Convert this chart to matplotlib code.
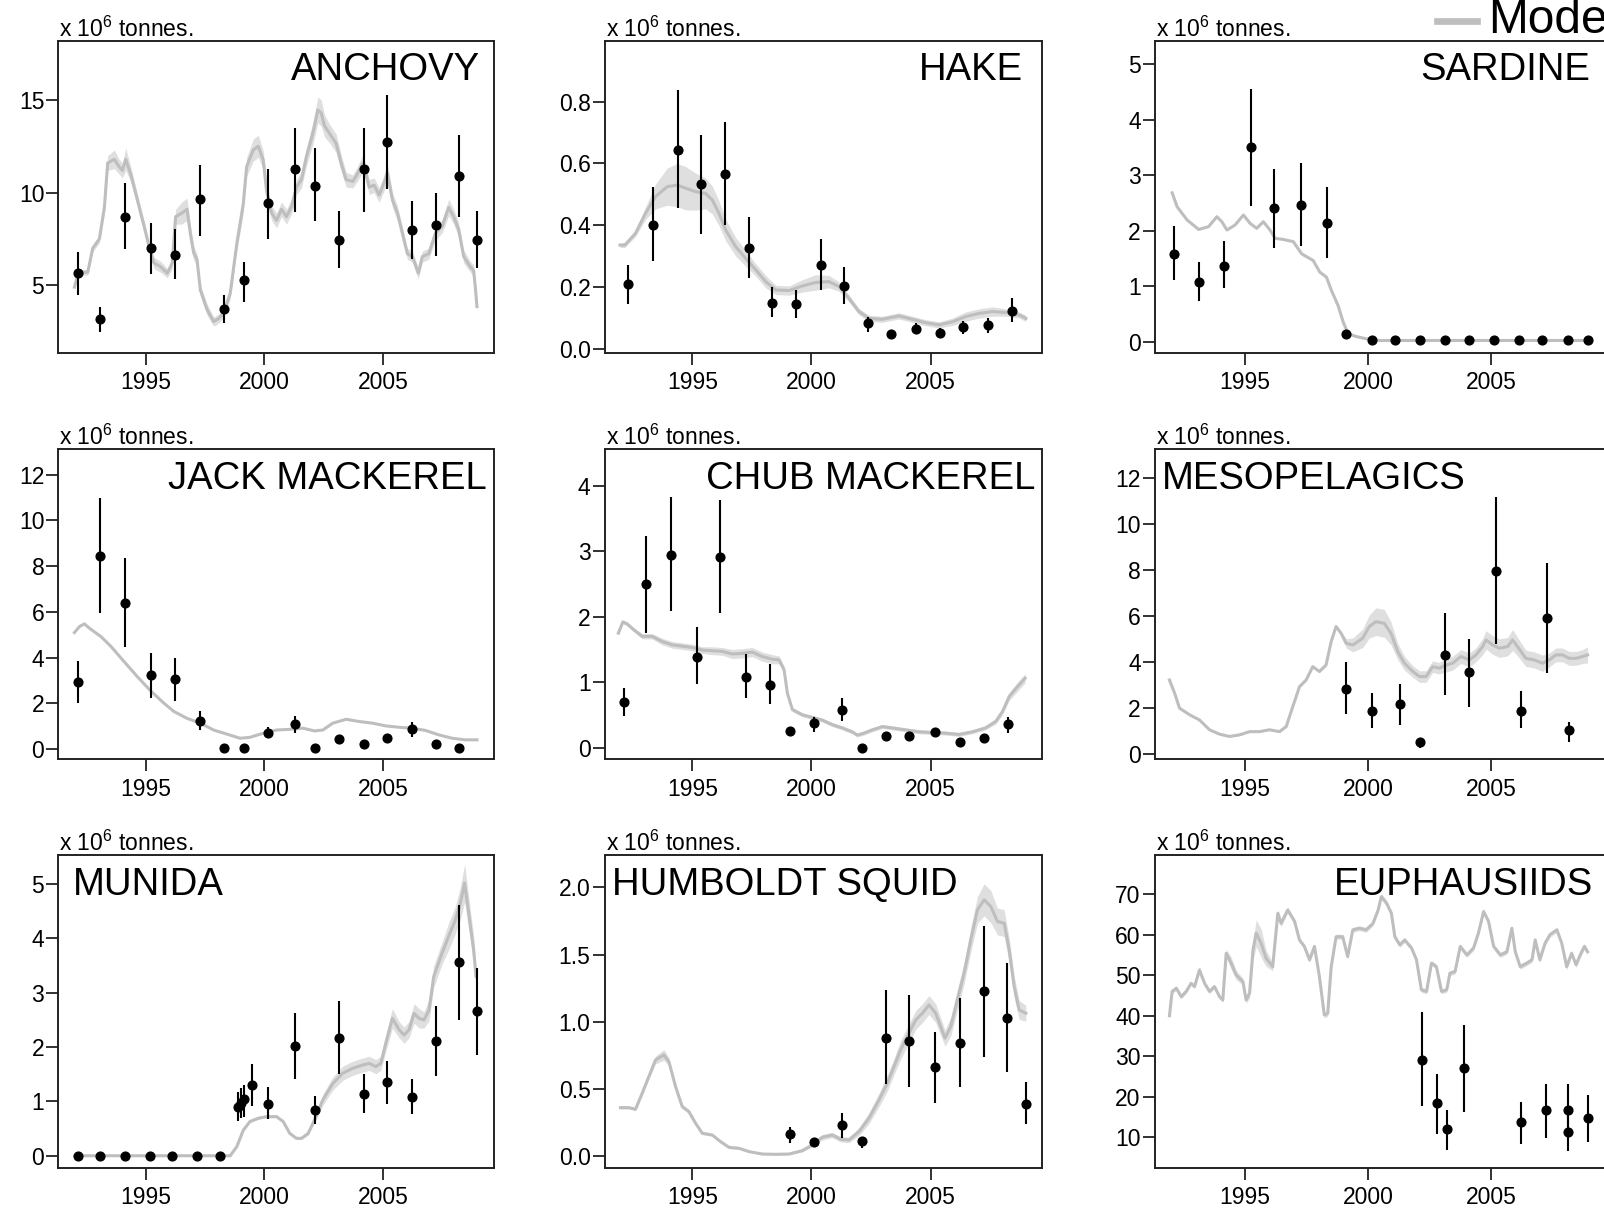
import numpy as np
import matplotlib
matplotlib.use("Agg")
import matplotlib.pyplot as plt
from matplotlib.lines import Line2D

plt.rcParams['font.family'] = ['Liberation Sans', 'DejaVu Sans']
plt.rcParams['mathtext.fontset'] = 'custom'
plt.rcParams['mathtext.rm'] = 'Liberation Sans'
plt.rcParams['mathtext.it'] = 'Liberation Sans:italic'

LINE_GREY = '#bebebe'
BAND_GREY = '#dfdfdf'
INK = '#222222'

# ---------------- ANCHOVY ----------------
anchovy_t = [1992.00, 1992.17, 1992.56, 1992.77, 1993.05, 1993.26, 1993.40, 1993.68, 1993.88, 1994.02,
             1994.16, 1994.37, 1994.65, 1994.93, 1995.14, 1995.35, 1995.63, 1995.91, 1996.12, 1996.26,
             1996.53, 1996.74, 1996.88, 1997.02, 1997.16, 1997.30, 1997.58, 1997.86, 1998.07, 1998.28,
             1998.56, 1998.84, 1999.11, 1999.25, 1999.53, 1999.74, 1999.95, 2000.09, 2000.30, 2000.51,
             2000.72, 2000.93, 2001.14, 2001.35, 2001.56, 2001.76, 2002.04, 2002.25, 2002.39, 2002.53,
             2002.74, 2003.02, 2003.23, 2003.44, 2003.72, 2003.93, 2004.14, 2004.27, 2004.41, 2004.62,
             2004.83, 2004.97, 2005.18, 2005.39, 2005.60, 2005.81, 2006.02, 2006.23, 2006.48, 2006.65,
             2006.92, 2007.20, 2007.48, 2007.76, 2007.97, 2008.18, 2008.39, 2008.67, 2008.81, 2008.88,
             2008.95]
anchovy_m = [4.90, 5.70, 5.70, 7.00, 7.50, 9.20, 11.60, 11.80, 11.40, 11.20,
             11.80, 11.00, 9.60, 8.20, 7.10, 6.20, 6.00, 5.65, 6.20, 8.70,
             8.90, 9.10, 7.80, 6.75, 6.40, 4.75, 3.70, 3.04, 3.20, 3.50,
             4.57, 7.27, 9.40, 11.40, 12.30, 12.50, 11.76, 10.10, 8.90, 8.50,
             9.10, 8.70, 9.24, 10.30, 10.70, 11.90, 13.20, 14.46, 14.30, 13.60,
             13.20, 12.66, 11.60, 10.70, 10.60, 11.04, 11.58, 11.04, 10.30, 10.40,
             9.87, 10.30, 11.04, 9.60, 8.90, 7.80, 6.70, 6.55, 5.65, 6.55,
             6.70, 7.80, 8.17, 9.20, 8.70, 8.00, 6.55, 6.00, 5.80, 4.90,
             3.85]
anchovy_bw = [0.10, 0.15, 0.15, 0.20, 0.20, 0.30, 0.40, 0.50, 0.40, 0.40,
              0.60, 0.40, 0.35, 0.30, 0.30, 0.30, 0.30, 0.25, 0.30, 0.40,
              0.60, 0.60, 0.50, 0.40, 0.30, 0.30, 0.30, 0.25, 0.25, 0.25,
              0.30, 0.40, 0.50, 0.50, 0.60, 0.60, 0.50, 0.50, 0.40, 0.40,
              0.40, 0.40, 0.40, 0.40, 0.45, 0.50, 0.60, 0.70, 0.70, 0.60,
              0.50, 0.50, 0.45, 0.40, 0.35, 0.40, 0.45, 0.40, 0.40, 0.40,
              0.40, 0.40, 0.50, 0.40, 0.40, 0.35, 0.30, 0.30, 0.30, 0.30,
              0.30, 0.35, 0.35, 0.45, 0.40, 0.40, 0.35, 0.30, 0.30, 0.30,
              0.30]
anchovy_yr = [1992.14, 1993.09, 1994.12, 1995.22, 1996.23, 1997.27, 1998.31, 1999.13, 2000.13,
              2001.29, 2002.11, 2003.13, 2004.18, 2005.18, 2006.21, 2007.24, 2008.19, 2008.95]
anchovy_obs = [5.65, 3.17, 8.70, 7.00, 6.62, 9.64, 3.72, 5.27, 9.46,
               11.26, 10.36, 7.45, 11.26, 12.72, 7.99, 8.26, 10.90, 7.45]
anchovy_lo = [4.48, 2.50, 6.94, 5.60, 5.32, 7.68, 2.95, 4.12, 7.50,
              8.96, 8.48, 5.95, 8.96, 10.22, 6.40, 6.58, 8.67, 5.95]
anchovy_hi = [6.82, 3.85, 10.50, 8.38, 8.02, 11.49, 4.48, 6.28, 11.28,
              13.50, 12.39, 9.03, 13.50, 15.29, 9.57, 9.96, 13.13, 9.03]

# ---------------- HAKE ----------------
hake_t = [1991.97, 1992.17, 1992.62, 1993.04, 1993.46, 1993.95, 1994.37, 1994.72, 1995.14, 1995.56,
          1995.84, 1996.12, 1996.40, 1996.82, 1997.24, 1997.66, 1998.08, 1998.50, 1999.06, 1999.62,
          2000.17, 2000.73, 2001.15, 2001.57, 2001.99, 2002.41, 2002.97, 2003.67, 2004.23, 2004.79,
          2005.35, 2005.91, 2006.47, 2007.03, 2007.59, 2008.15, 2008.71, 2008.99]
hake_m = [0.336, 0.336, 0.374, 0.439, 0.493, 0.525, 0.530, 0.520, 0.509, 0.503,
          0.482, 0.439, 0.385, 0.331, 0.293, 0.256, 0.218, 0.191, 0.189, 0.204,
          0.215, 0.218, 0.202, 0.164, 0.121, 0.099, 0.096, 0.107, 0.096, 0.085,
          0.078, 0.088, 0.105, 0.115, 0.121, 0.118, 0.110, 0.099]
hake_bw = [0.008, 0.008, 0.010, 0.020, 0.040, 0.060, 0.070, 0.070, 0.060, 0.050,
           0.045, 0.040, 0.035, 0.030, 0.025, 0.020, 0.020, 0.015, 0.015, 0.020,
           0.025, 0.020, 0.015, 0.012, 0.010, 0.010, 0.010, 0.010, 0.010, 0.010,
           0.010, 0.012, 0.015, 0.015, 0.015, 0.012, 0.010, 0.010]
hake_yr = [1992.31, 1993.35, 1994.40, 1995.35, 1996.37, 1997.38, 1998.36, 1999.36, 2000.39,
           2001.35, 2002.38, 2003.34, 2004.37, 2005.39, 2006.36, 2007.40, 2008.40]
hake_obs = [0.211, 0.401, 0.642, 0.533, 0.565, 0.326, 0.150, 0.146, 0.272,
            0.205, 0.083, 0.047, 0.064, 0.053, 0.070, 0.077, 0.123]
hake_lo = [0.144, 0.285, 0.455, 0.371, 0.400, 0.231, 0.105, 0.099, 0.191,
           0.144, 0.056, 0.038, 0.047, 0.040, 0.047, 0.051, 0.088]
hake_hi = [0.272, 0.523, 0.836, 0.692, 0.735, 0.426, 0.202, 0.191, 0.355,
           0.266, 0.105, 0.056, 0.083, 0.067, 0.092, 0.099, 0.166]

# ---------------- SARDINE ----------------
sardine_t = [1992.03, 1992.23, 1992.64, 1993.11, 1993.51, 1993.85, 1994.05, 1994.26, 1994.59, 1994.93,
             1995.20, 1995.47, 1995.74, 1996.01, 1996.22, 1996.55, 1996.96, 1997.30, 1997.77, 1998.04,
             1998.31, 1998.51, 1998.78, 1998.99, 1999.19, 1999.53, 1999.93, 2000.47, 2004.00, 2008.95]
sardine_m = [2.68, 2.43, 2.19, 2.02, 2.07, 2.25, 2.16, 2.01, 2.10, 2.28,
             2.13, 2.04, 2.16, 2.01, 1.86, 1.84, 1.80, 1.58, 1.46, 1.25,
             1.16, 0.92, 0.65, 0.35, 0.14, 0.09, 0.05, 0.02, 0.02, 0.02]
sardine_yr = [1992.11, 1993.11, 1994.15, 1995.23, 1996.19, 1997.27, 1998.31, 1999.12, 2000.15,
              2001.11, 2002.11, 2003.15, 2004.09, 2005.12, 2006.15, 2007.08, 2008.12, 2008.95]
sardine_obs = [1.58, 1.08, 1.36, 3.50, 2.40, 2.46, 2.13, 0.13, 0.02,
               0.02, 0.02, 0.02, 0.02, 0.02, 0.02, 0.02, 0.02, 0.02]
sardine_lo = [1.11, 0.74, 0.96, 2.45, 1.69, 1.72, 1.51, 0.13, 0.02,
              0.02, 0.02, 0.02, 0.02, 0.02, 0.02, 0.02, 0.02, 0.02]
sardine_hi = [2.08, 1.43, 1.81, 4.55, 3.11, 3.21, 2.78, 0.13, 0.02,
              0.02, 0.02, 0.02, 0.02, 0.02, 0.02, 0.02, 0.02, 0.02]

# ---------------- JACK MACKEREL ----------------
jack_t = [1992.00, 1992.21, 1992.42, 1992.63, 1993.12, 1993.54, 1994.09, 1994.65, 1995.21, 1995.77,
          1996.19, 1996.74, 1997.30, 1997.86, 1998.42, 1998.97, 1999.39, 1999.95, 2000.51, 2001.07,
          2001.62, 2002.11, 2002.46, 2002.88, 2003.44, 2004.00, 2004.55, 2005.11, 2005.67, 2006.23,
          2006.79, 2007.34, 2007.90, 2008.46, 2008.95]
jack_m = [5.10, 5.36, 5.48, 5.29, 4.92, 4.49, 3.83, 3.17, 2.55, 2.01,
          1.65, 1.35, 1.14, 0.84, 0.66, 0.48, 0.52, 0.70, 0.84, 0.87,
          0.92, 0.80, 0.84, 1.14, 1.31, 1.21, 1.14, 1.02, 0.96, 0.92,
          0.82, 0.63, 0.48, 0.41, 0.41]
jack_yr = [1992.14, 1993.09, 1994.12, 1995.22, 1996.23, 1997.27, 1998.31, 1999.13, 2000.13,
           2001.29, 2002.11, 2003.13, 2004.18, 2005.18, 2006.21, 2007.24, 2008.19]
jack_obs = [2.94, 8.46, 6.39, 3.23, 3.09, 1.24, 0.06, 0.06, 0.73,
            1.11, 0.06, 0.44, 0.22, 0.51, 0.87, 0.22, 0.06]
jack_lo = [2.01, 5.94, 4.46, 2.26, 2.11, 0.84, 0.06, 0.06, 0.55,
           0.70, 0.06, 0.36, 0.18, 0.40, 0.55, 0.18, 0.06]
jack_hi = [3.86, 10.99, 8.34, 4.22, 4.00, 1.65, 0.06, 0.06, 0.95,
           1.46, 0.06, 0.52, 0.26, 0.62, 1.21, 0.26, 0.06]

# ---------------- CHUB MACKEREL ----------------
chub_t = [1991.90, 1992.09, 1992.27, 1992.55, 1992.90, 1993.32, 1993.74, 1994.16, 1994.58, 1995.00,
          1995.42, 1995.84, 1996.26, 1996.68, 1997.10, 1997.52, 1997.94, 1998.36, 1998.64, 1998.85,
          1998.99, 1999.20, 1999.62, 2000.03, 2000.45, 2000.87, 2001.29, 2001.71, 2001.92, 2002.20,
          2002.55, 2002.97, 2003.39, 2003.95, 2004.51, 2005.07, 2005.63, 2006.18, 2006.74, 2007.30,
          2007.73, 2008.01, 2008.29, 2008.64, 2008.96]
chub_m = [1.75, 1.92, 1.89, 1.80, 1.70, 1.70, 1.62, 1.57, 1.55, 1.53,
          1.49, 1.48, 1.47, 1.43, 1.44, 1.46, 1.39, 1.35, 1.34, 1.19,
          0.83, 0.58, 0.50, 0.46, 0.42, 0.35, 0.30, 0.24, 0.19, 0.22,
          0.27, 0.32, 0.30, 0.27, 0.24, 0.23, 0.22, 0.20, 0.24, 0.30,
          0.40, 0.55, 0.78, 0.93, 1.06]
chub_bw = [0.03, 0.03, 0.03, 0.03, 0.04, 0.04, 0.05, 0.05, 0.05, 0.05,
           0.05, 0.06, 0.06, 0.07, 0.07, 0.07, 0.07, 0.07, 0.06, 0.05,
           0.04, 0.03, 0.03, 0.03, 0.03, 0.03, 0.03, 0.03, 0.03, 0.03,
           0.03, 0.03, 0.03, 0.03, 0.03, 0.03, 0.03, 0.03, 0.03, 0.03,
           0.04, 0.05, 0.06, 0.07, 0.07]
chub_yr = [1992.13, 1993.08, 1994.10, 1995.21, 1996.16, 1997.24, 1998.28, 1999.10, 2000.11,
           2001.29, 2002.10, 2003.14, 2004.09, 2005.20, 2006.23, 2007.24, 2008.25]
chub_obs = [0.70, 2.50, 2.94, 1.39, 2.91, 1.08, 0.95, 0.26, 0.37,
            0.57, 0.00, 0.18, 0.18, 0.23, 0.08, 0.15, 0.36]
chub_lo = [0.48, 1.75, 2.08, 0.97, 2.05, 0.76, 0.66, 0.22, 0.24,
           0.40, 0.00, 0.15, 0.14, 0.17, 0.06, 0.12, 0.22]
chub_hi = [0.91, 3.24, 3.83, 1.84, 3.78, 1.43, 1.27, 0.30, 0.47,
           0.75, 0.00, 0.22, 0.24, 0.30, 0.10, 0.19, 0.47]

# ---------------- MESOPELAGICS ----------------
meso_t = [1991.92, 1992.13, 1992.33, 1992.74, 1993.14, 1993.55, 1993.96, 1994.36, 1994.77, 1995.18,
          1995.58, 1995.99, 1996.40, 1996.67, 1996.94, 1997.21, 1997.48, 1997.75, 1998.02, 1998.29,
          1998.50, 1998.70, 1998.90, 1999.11, 1999.38, 1999.78, 2000.05, 2000.32, 2000.66, 2000.93,
          2001.21, 2001.48, 2001.82, 2002.09, 2002.36, 2002.63, 2002.90, 2003.17, 2003.44, 2003.78,
          2004.12, 2004.39, 2004.66, 2004.80, 2005.07, 2005.34, 2005.68, 2005.88, 2006.08, 2006.42,
          2006.76, 2007.10, 2007.37, 2007.64, 2007.91, 2008.18, 2008.46, 2008.73, 2008.93]
meso_m = [3.22, 2.65, 2.00, 1.71, 1.49, 1.06, 0.87, 0.77, 0.84, 0.98,
          0.98, 1.06, 0.98, 1.20, 2.07, 2.93, 3.22, 3.80, 3.59, 3.87,
          4.89, 5.54, 5.25, 4.81, 4.74, 5.03, 5.54, 5.75, 5.68, 5.25,
          4.45, 3.95, 3.59, 3.37, 3.37, 3.80, 3.73, 3.87, 3.95, 4.24,
          4.09, 4.31, 4.67, 4.96, 4.74, 4.60, 4.67, 4.96, 4.67, 4.16,
          4.09, 3.95, 4.09, 4.31, 4.31, 4.16, 4.16, 4.24, 4.31]
meso_bw = [0.03, 0.03, 0.03, 0.03, 0.03, 0.03, 0.03, 0.03, 0.03, 0.03,
           0.03, 0.03, 0.03, 0.03, 0.05, 0.05, 0.05, 0.05, 0.05, 0.05,
           0.05, 0.05, 0.08, 0.20, 0.30, 0.40, 0.50, 0.60, 0.60, 0.50,
           0.35, 0.30, 0.25, 0.25, 0.25, 0.25, 0.25, 0.30, 0.30, 0.30,
           0.30, 0.30, 0.35, 0.40, 0.40, 0.40, 0.40, 0.45, 0.40, 0.35,
           0.35, 0.35, 0.30, 0.30, 0.30, 0.30, 0.30, 0.30, 0.35]
meso_yr = [1999.11, 2000.14, 2001.30, 2002.10, 2003.14, 2004.09, 2005.20, 2006.22, 2007.26, 2008.18]
meso_obs = [2.85, 1.89, 2.18, 0.51, 4.31, 3.57, 7.97, 1.89, 5.91, 1.03]
meso_lo = [1.73, 1.13, 1.27, 0.29, 2.57, 2.07, 4.79, 1.13, 3.51, 0.55]
meso_hi = [3.98, 2.67, 3.04, 0.72, 6.12, 5.00, 11.15, 2.75, 8.28, 1.42]

# ---------------- MUNIDA ----------------
munida_t = [1992.03, 1998.56, 1998.84, 1999.11, 1999.39, 1999.74, 2000.09, 2000.51, 2000.79, 2001.07,
            2001.35, 2001.56, 2001.84, 2002.11, 2002.46, 2002.88, 2003.30, 2003.72, 2004.14, 2004.41,
            2004.69, 2004.90, 2005.11, 2005.39, 2005.67, 2005.88, 2006.09, 2006.30, 2006.51, 2006.72,
            2006.93, 2007.13, 2007.48, 2007.76, 2008.04, 2008.25, 2008.43, 2008.60, 2008.81, 2008.91]
munida_m = [0.00, 0.00, 0.17, 0.47, 0.63, 0.69, 0.72, 0.72, 0.63, 0.41,
            0.32, 0.32, 0.41, 0.66, 1.03, 1.33, 1.52, 1.61, 1.67, 1.70,
            1.64, 1.70, 2.07, 2.53, 2.32, 2.22, 2.32, 2.62, 2.53, 2.50,
            2.68, 3.30, 3.73, 4.04, 4.34, 4.65, 5.02, 4.47, 3.79, 3.30]
munida_bw = [0.00, 0.00, 0.01, 0.02, 0.02, 0.02, 0.02, 0.02, 0.02, 0.02,
             0.02, 0.02, 0.03, 0.05, 0.10, 0.12, 0.13, 0.13, 0.13, 0.13,
             0.13, 0.13, 0.15, 0.18, 0.15, 0.15, 0.15, 0.18, 0.18, 0.15,
             0.20, 0.20, 0.20, 0.25, 0.25, 0.30, 0.35, 0.30, 0.25, 0.20]
munida_yr = [1992.17, 1993.09, 1994.12, 1995.17, 1996.12, 1997.16, 1998.14, 1998.89, 1999.00, 1999.13,
             1999.48, 2000.13, 2001.29, 2002.11, 2003.13, 2004.18, 2005.18, 2006.21, 2007.24, 2008.19,
             2008.95]
munida_obs = [0.00, 0.00, 0.00, 0.00, 0.00, 0.00, 0.00, 0.90, 0.98, 1.04,
              1.30, 0.96, 2.02, 0.84, 2.17, 1.14, 1.36, 1.09, 2.11, 3.57,
              2.67]
munida_lo = [0.00, 0.00, 0.00, 0.00, 0.00, 0.00, 0.00, 0.64, 0.70, 0.72,
             0.92, 0.67, 1.41, 0.58, 1.50, 0.79, 0.95, 0.76, 1.47, 2.50,
             1.86]
munida_hi = [0.00, 0.00, 0.00, 0.00, 0.00, 0.00, 0.00, 1.18, 1.25, 1.30,
             1.68, 1.26, 2.62, 1.10, 2.84, 1.50, 1.74, 1.41, 2.75, 4.61,
             3.45]

# ---------------- HUMBOLDT SQUID ----------------
squid_t = [1991.99, 1992.34, 1992.62, 1992.90, 1993.18, 1993.46, 1993.81, 1994.02, 1994.30, 1994.58,
           1994.86, 1995.14, 1995.42, 1995.84, 1996.19, 1996.54, 1996.96, 1997.38, 1997.94, 1998.50,
           1999.06, 1999.61, 2000.03, 2000.45, 2000.87, 2001.22, 2001.57, 2001.99, 2002.41, 2002.83,
           2003.18, 2003.46, 2003.74, 2004.09, 2004.37, 2004.65, 2004.93, 2005.21, 2005.60, 2005.84,
           2006.12, 2006.40, 2006.68, 2006.96, 2007.24, 2007.52, 2007.80, 2008.08, 2008.29, 2008.50,
           2008.71, 2008.99]
squid_m = [0.358, 0.358, 0.346, 0.465, 0.590, 0.714, 0.751, 0.701, 0.515, 0.366,
           0.328, 0.241, 0.167, 0.154, 0.104, 0.062, 0.055, 0.030, 0.012, 0.010,
           0.012, 0.037, 0.080, 0.137, 0.154, 0.122, 0.117, 0.179, 0.279, 0.415,
           0.540, 0.664, 0.789, 0.913, 1.012, 1.062, 1.124, 1.062, 0.876, 0.963,
           1.162, 1.361, 1.609, 1.833, 1.908, 1.858, 1.746, 1.734, 1.535, 1.261,
           1.087, 1.062]
squid_bw = [0.010, 0.010, 0.010, 0.015, 0.020, 0.030, 0.040, 0.030, 0.020, 0.015,
            0.015, 0.010, 0.010, 0.010, 0.010, 0.010, 0.010, 0.005, 0.005, 0.005,
            0.005, 0.010, 0.015, 0.020, 0.020, 0.020, 0.020, 0.030, 0.040, 0.050,
            0.060, 0.060, 0.070, 0.070, 0.070, 0.070, 0.070, 0.070, 0.060, 0.070,
            0.080, 0.080, 0.090, 0.100, 0.120, 0.120, 0.100, 0.100, 0.090, 0.080,
            0.070, 0.060]
squid_yr = [1999.10, 2000.11, 2001.29, 2002.10, 2003.14, 2004.09, 2005.20, 2006.22, 2007.24,
            2008.22, 2008.99]
squid_obs = [0.164, 0.100, 0.226, 0.112, 0.881, 0.856, 0.664, 0.838, 1.231, 1.030, 0.388]
squid_lo = [0.092, 0.067, 0.129, 0.055, 0.532, 0.510, 0.396, 0.510, 0.734, 0.622, 0.234]
squid_hi = [0.216, 0.130, 0.316, 0.142, 1.236, 1.199, 0.920, 1.174, 1.716, 1.435, 0.552]

# ---------------- EUPHAUSIIDS ----------------
euph_t = [1991.92, 1992.03, 1992.20, 1992.40, 1992.60, 1992.80, 1992.94, 1993.14, 1993.35, 1993.55,
          1993.75, 1993.96, 1994.09, 1994.23, 1994.43, 1994.63, 1994.91, 1995.04, 1995.18, 1995.32,
          1995.45, 1995.65, 1995.85, 1996.12, 1996.33, 1996.46, 1996.73, 1997.01, 1997.21, 1997.41,
          1997.62, 1997.82, 1998.02, 1998.22, 1998.36, 1998.50, 1998.70, 1998.97, 1999.17, 1999.38,
          1999.65, 1999.92, 2000.20, 2000.41, 2000.54, 2000.75, 2000.95, 2001.09, 2001.29, 2001.49,
          2001.77, 2001.97, 2002.17, 2002.38, 2002.58, 2002.78, 2002.99, 2003.20, 2003.33, 2003.54,
          2003.75, 2004.02, 2004.29, 2004.49, 2004.70, 2004.90, 2005.11, 2005.38, 2005.65, 2005.85,
          2005.99, 2006.19, 2006.46, 2006.67, 2006.80, 2006.99, 2007.20, 2007.40, 2007.68, 2007.88,
          2008.08, 2008.28, 2008.46, 2008.66, 2008.80, 2008.93]
euph_m = [40.0, 46.0, 46.8, 44.7, 46.0, 48.0, 47.2, 51.3, 48.0, 46.0,
          47.2, 44.7, 43.9, 55.4, 53.0, 50.1, 48.4, 43.9, 45.6, 56.3,
          60.4, 57.9, 54.2, 52.1, 65.3, 62.8, 66.1, 63.3, 58.7, 57.1,
          53.8, 57.1, 49.7, 40.2, 40.6, 52.1, 59.5, 59.5, 54.6, 61.2,
          61.6, 61.2, 62.8, 66.1, 69.4, 67.8, 65.3, 59.5, 57.5, 58.7,
          56.7, 53.8, 46.4, 46.0, 53.0, 52.1, 46.0, 46.4, 50.5, 50.9,
          57.1, 55.0, 56.7, 60.4, 65.7, 63.3, 57.1, 55.0, 55.8, 61.6,
          55.8, 52.1, 53.0, 53.8, 58.7, 53.8, 57.9, 60.0, 61.2, 57.9,
          52.1, 55.4, 52.6, 55.4, 57.1, 55.8]
euph_bw = [0.5, 0.5, 0.5, 0.5, 0.5, 0.5, 0.5, 0.8, 0.6, 0.5,
           0.5, 0.5, 0.6, 1.0, 1.5, 1.2, 0.8, 0.8, 1.2, 2.5,
           3.3, 3.5, 2.0, 1.0, 0.8, 0.8, 0.7, 0.7, 0.6, 0.6,
           0.6, 0.6, 0.6, 0.7, 0.7, 0.6, 0.6, 0.6, 0.6, 0.6,
           0.6, 0.6, 0.6, 0.6, 0.7, 0.7, 0.6, 0.6, 0.6, 0.6,
           0.6, 0.6, 0.6, 0.6, 0.6, 0.6, 0.6, 0.6, 0.6, 0.6,
           0.6, 0.6, 0.6, 0.6, 0.7, 0.7, 0.6, 0.6, 0.6, 0.6,
           0.6, 0.6, 0.6, 0.6, 0.6, 0.6, 0.6, 0.6, 0.6, 0.6,
           0.7, 0.7, 0.7, 0.7, 0.7, 0.7]
euph_yr = [2002.18, 2002.79, 2003.21, 2003.89, 2006.22, 2007.24, 2008.14, 2008.12, 2008.94]
euph_obs = [29.1, 18.4, 12.1, 27.0, 13.7, 16.7, 16.7, 11.2, 14.7]
euph_lo = [17.7, 10.7, 6.9, 16.2, 8.3, 9.9, 9.9, 6.7, 8.8]
euph_hi = [41.0, 25.6, 16.7, 37.6, 18.8, 23.1, 23.1, 15.9, 20.5]

species = ['ANCHOVY', 'HAKE', 'SARDINE', 'JACK MACKEREL', 'CHUB MACKEREL',
           'MESOPELAGICS', 'MUNIDA', 'HUMBOLDT SQUID', 'EUPHAUSIIDS']
series = {
    'ANCHOVY': (anchovy_t, anchovy_m, anchovy_bw, anchovy_yr, anchovy_obs, anchovy_lo, anchovy_hi),
    'HAKE': (hake_t, hake_m, hake_bw, hake_yr, hake_obs, hake_lo, hake_hi),
    'SARDINE': (sardine_t, sardine_m, None, sardine_yr, sardine_obs, sardine_lo, sardine_hi),
    'JACK MACKEREL': (jack_t, jack_m, None, jack_yr, jack_obs, jack_lo, jack_hi),
    'CHUB MACKEREL': (chub_t, chub_m, chub_bw, chub_yr, chub_obs, chub_lo, chub_hi),
    'MESOPELAGICS': (meso_t, meso_m, meso_bw, meso_yr, meso_obs, meso_lo, meso_hi),
    'MUNIDA': (munida_t, munida_m, munida_bw, munida_yr, munida_obs, munida_lo, munida_hi),
    'HUMBOLDT SQUID': (squid_t, squid_m, squid_bw, squid_yr, squid_obs, squid_lo, squid_hi),
    'EUPHAUSIIDS': (euph_t, euph_m, euph_bw, euph_yr, euph_obs, euph_lo, euph_hi),
}

y_limits = [(1.36, 18.2), (-0.012, 0.997), (-0.2, 5.42),
            (-0.44, 13.11), (-0.18, 4.56), (-0.22, 13.23),
            (-0.22, 5.53), (-0.09, 2.24), (2.5, 79.6)]
y_ticks = [[5, 10, 15], [0.0, 0.2, 0.4, 0.6, 0.8], [0, 1, 2, 3, 4, 5],
           [0, 2, 4, 6, 8, 10, 12], [0, 1, 2, 3, 4], [0, 2, 4, 6, 8, 10, 12],
           [0, 1, 2, 3, 4, 5], [0.0, 0.5, 1.0, 1.5, 2.0], [10, 20, 30, 40, 50, 60, 70]]
y_fmt = ['{:.0f}', '{:.1f}', '{:.0f}', '{:.0f}', '{:.0f}', '{:.0f}', '{:.0f}', '{:.1f}', '{:.0f}']
x_ticks = [1995, 2000, 2005]

# title anchor: side of the box and inset in pixels
title_side = ['right', 'right', 'right', 'right', 'right', 'left', 'left', 'left', 'right']
title_inset = [14, 19, 16, 8, 7, 7, 15, 7, 13]

W, H = 1604, 1211
PX = 72.0 / 100  # points per pixel
col_left = [58.3, 604.5, 1154.7]
col_right = [494.3, 1042.3, 1606.0]
row_top = [40.7, 449.3, 855.3]
row_bot = [352.7, 759.3, 1167.7]

fig = plt.figure(figsize=(W / 100, H / 100), dpi=100)
fig.patch.set_facecolor('white')

for i, name in enumerate(species):
    r, c = divmod(i, 3)
    ax = fig.add_axes([col_left[c] / W, 1 - row_bot[r] / H,
                       (col_right[c] - col_left[c]) / W, (row_bot[r] - row_top[r]) / H])
    t, m, bw, yr, obs, lo, hi = series[name]
    t = np.asarray(t)
    m = np.asarray(m)
    if bw is not None:
        bw = np.asarray(bw)
        ax.fill_between(t, m - bw, m + bw, color=BAND_GREY, lw=0, zorder=1)
    ax.plot(t, m, color=LINE_GREY, lw=2.2, zorder=2, solid_joinstyle='round')
    ax.vlines(yr, lo, hi, color='black', lw=1.5, zorder=3)
    ax.plot(yr, obs, 'o', color='black', ms=6.3, zorder=4)

    ax.set_xlim(1991.32, 2009.68)
    ax.set_ylim(*y_limits[i])
    ax.set_xticks(x_ticks)
    ax.set_xticklabels([str(x) for x in x_ticks])
    ax.set_yticks(y_ticks[i])
    ax.set_yticklabels([y_fmt[i].format(v) for v in y_ticks[i]])
    ax.tick_params(direction='out', length=12 * PX, width=1.3, colors=INK,
                   labelsize=16.5, labelcolor='black')
    ax.tick_params(axis='x', pad=6.5 * PX)
    ax.tick_params(axis='y', pad=2 * PX)
    for sp in ax.spines.values():
        sp.set_linewidth(1.4)
        sp.set_color(INK)

    ax.annotate(r'x 10$^{6}$ tonnes.', xy=(0, 1), xycoords='axes fraction',
                xytext=(1 * PX, 4 * PX), textcoords='offset points',
                ha='left', va='baseline', fontsize=16.5)
    if title_side[i] == 'right':
        ax.annotate(name, xy=(1, 1), xycoords='axes fraction',
                    xytext=(-title_inset[i] * PX, -39.5 * PX), textcoords='offset points',
                    ha='right', va='baseline', fontsize=27.5)
    else:
        ax.annotate(name, xy=(0, 1), xycoords='axes fraction',
                    xytext=(title_inset[i] * PX, -39.5 * PX), textcoords='offset points',
                    ha='left', va='baseline', fontsize=27.5)

# legend key for the model line, top right
fig.add_artist(Line2D([1436.7 / W, 1476.7 / W], [1 - 20.7 / H, 1 - 20.7 / H],
                      transform=fig.transFigure, color=LINE_GREY, lw=4.8))
fig.text(1488 / W, 1 - 33 / H, 'Model', fontsize=34.5, ha='left', va='baseline')

fig.savefig('out.png', dpi=100, facecolor='white')
